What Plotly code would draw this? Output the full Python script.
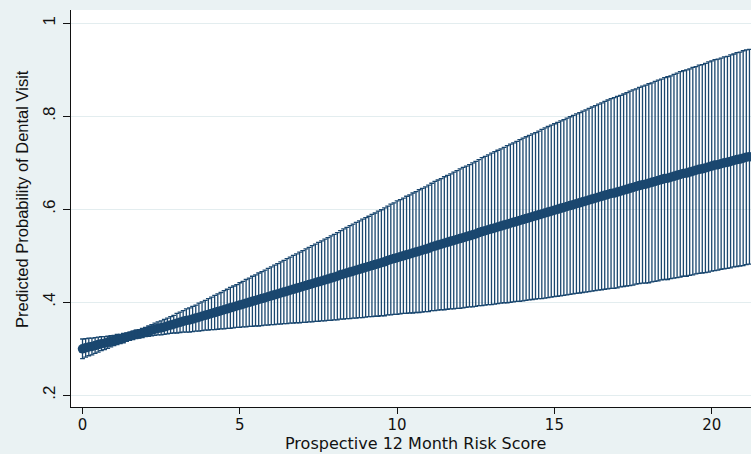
import plotly.graph_objects as go

# Prospective 12-month risk score (evaluation grid, step 0.1)
risk_score = [
    0.0, 0.1, 0.2, 0.3, 0.4, 0.5, 0.6, 0.7, 0.8, 0.9,
    1.0, 1.1, 1.2, 1.3, 1.4, 1.5, 1.6, 1.7, 1.8, 1.9,
    2.0, 2.1, 2.2, 2.3, 2.4, 2.5, 2.6, 2.7, 2.8, 2.9,
    3.0, 3.1, 3.2, 3.3, 3.4, 3.5, 3.6, 3.7, 3.8, 3.9,
    4.0, 4.1, 4.2, 4.3, 4.4, 4.5, 4.6, 4.7, 4.8, 4.9,
    5.0, 5.1, 5.2, 5.3, 5.4, 5.5, 5.6, 5.7, 5.8, 5.9,
    6.0, 6.1, 6.2, 6.3, 6.4, 6.5, 6.6, 6.7, 6.8, 6.9,
    7.0, 7.1, 7.2, 7.3, 7.4, 7.5, 7.6, 7.7, 7.8, 7.9,
    8.0, 8.1, 8.2, 8.3, 8.4, 8.5, 8.6, 8.7, 8.8, 8.9,
    9.0, 9.1, 9.2, 9.3, 9.4, 9.5, 9.6, 9.7, 9.8, 9.9,
    10.0, 10.1, 10.2, 10.3, 10.4, 10.5, 10.6, 10.7, 10.8, 10.9,
    11.0, 11.1, 11.2, 11.3, 11.4, 11.5, 11.6, 11.7, 11.8, 11.9,
    12.0, 12.1, 12.2, 12.3, 12.4, 12.5, 12.6, 12.7, 12.8, 12.9,
    13.0, 13.1, 13.2, 13.3, 13.4, 13.5, 13.6, 13.7, 13.8, 13.9,
    14.0, 14.1, 14.2, 14.3, 14.4, 14.5, 14.6, 14.7, 14.8, 14.9,
    15.0, 15.1, 15.2, 15.3, 15.4, 15.5, 15.6, 15.7, 15.8, 15.9,
    16.0, 16.1, 16.2, 16.3, 16.4, 16.5, 16.6, 16.7, 16.8, 16.9,
    17.0, 17.1, 17.2, 17.3, 17.4, 17.5, 17.6, 17.7, 17.8, 17.9,
    18.0, 18.1, 18.2, 18.3, 18.4, 18.5, 18.6, 18.7, 18.8, 18.9,
    19.0, 19.1, 19.2, 19.3, 19.4, 19.5, 19.6, 19.7, 19.8, 19.9,
    20.0, 20.1, 20.2, 20.3, 20.4, 20.5, 20.6, 20.7, 20.8, 20.9,
    21.0, 21.1, 21.2,
]

# Predicted probability of dental visit (margin)
pred_prob = [
    0.300, 0.302, 0.304, 0.305, 0.307, 0.309, 0.311, 0.312, 0.314, 0.316,
    0.318, 0.320, 0.321, 0.323, 0.325, 0.327, 0.329, 0.331, 0.332, 0.334,
    0.336, 0.338, 0.340, 0.342, 0.344, 0.345, 0.347, 0.349, 0.351, 0.353,
    0.355, 0.357, 0.359, 0.361, 0.362, 0.364, 0.366, 0.368, 0.370, 0.372,
    0.374, 0.376, 0.378, 0.380, 0.382, 0.384, 0.386, 0.388, 0.390, 0.392,
    0.394, 0.396, 0.398, 0.400, 0.402, 0.404, 0.406, 0.408, 0.410, 0.412,
    0.414, 0.416, 0.418, 0.420, 0.422, 0.424, 0.426, 0.428, 0.430, 0.432,
    0.434, 0.436, 0.438, 0.440, 0.442, 0.444, 0.446, 0.448, 0.450, 0.452,
    0.454, 0.456, 0.459, 0.461, 0.463, 0.465, 0.467, 0.469, 0.471, 0.473,
    0.475, 0.477, 0.479, 0.481, 0.483, 0.485, 0.487, 0.490, 0.492, 0.494,
    0.496, 0.498, 0.500, 0.502, 0.504, 0.506, 0.508, 0.510, 0.512, 0.514,
    0.516, 0.519, 0.521, 0.523, 0.525, 0.527, 0.529, 0.531, 0.533, 0.535,
    0.537, 0.539, 0.541, 0.543, 0.545, 0.547, 0.550, 0.552, 0.554, 0.556,
    0.558, 0.560, 0.562, 0.564, 0.566, 0.568, 0.570, 0.572, 0.574, 0.576,
    0.578, 0.580, 0.582, 0.584, 0.586, 0.588, 0.590, 0.592, 0.594, 0.596,
    0.598, 0.600, 0.602, 0.604, 0.606, 0.608, 0.610, 0.612, 0.614, 0.616,
    0.618, 0.620, 0.622, 0.624, 0.626, 0.628, 0.630, 0.632, 0.634, 0.635,
    0.637, 0.639, 0.641, 0.643, 0.645, 0.647, 0.649, 0.651, 0.653, 0.654,
    0.656, 0.658, 0.660, 0.662, 0.664, 0.666, 0.667, 0.669, 0.671, 0.673,
    0.675, 0.677, 0.678, 0.680, 0.682, 0.684, 0.686, 0.687, 0.689, 0.691,
    0.693, 0.695, 0.696, 0.698, 0.700, 0.701, 0.703, 0.705, 0.707, 0.708,
    0.710, 0.712, 0.713,
]

# Half-width of the 95% confidence interval
ci_half = [
    0.021, 0.020, 0.019, 0.018, 0.017, 0.016, 0.015, 0.014, 0.013, 0.012,
    0.011, 0.011, 0.010, 0.010, 0.009, 0.009, 0.009, 0.009, 0.009, 0.010,
    0.010, 0.011, 0.012, 0.013, 0.014, 0.015, 0.016, 0.017, 0.018, 0.019,
    0.021, 0.022, 0.023, 0.025, 0.026, 0.027, 0.028, 0.030, 0.031, 0.032,
    0.034, 0.035, 0.037, 0.038, 0.039, 0.041, 0.042, 0.044, 0.045, 0.046,
    0.048, 0.049, 0.051, 0.052, 0.054, 0.055, 0.057, 0.058, 0.059, 0.061,
    0.062, 0.064, 0.065, 0.067, 0.068, 0.070, 0.071, 0.073, 0.074, 0.076,
    0.077, 0.079, 0.080, 0.082, 0.083, 0.085, 0.086, 0.088, 0.089, 0.091,
    0.092, 0.094, 0.095, 0.097, 0.098, 0.100, 0.101, 0.103, 0.104, 0.106,
    0.107, 0.108, 0.110, 0.111, 0.113, 0.114, 0.116, 0.117, 0.119, 0.120,
    0.122, 0.123, 0.124, 0.126, 0.127, 0.129, 0.130, 0.132, 0.133, 0.134,
    0.136, 0.137, 0.139, 0.140, 0.141, 0.143, 0.144, 0.145, 0.147, 0.148,
    0.150, 0.151, 0.152, 0.153, 0.155, 0.156, 0.157, 0.159, 0.160, 0.161,
    0.163, 0.164, 0.165, 0.166, 0.167, 0.169, 0.170, 0.171, 0.172, 0.174,
    0.175, 0.176, 0.177, 0.178, 0.179, 0.180, 0.182, 0.183, 0.184, 0.185,
    0.186, 0.187, 0.188, 0.189, 0.190, 0.191, 0.192, 0.193, 0.194, 0.195,
    0.196, 0.197, 0.198, 0.199, 0.200, 0.201, 0.202, 0.203, 0.204, 0.205,
    0.206, 0.206, 0.207, 0.208, 0.209, 0.210, 0.210, 0.211, 0.212, 0.213,
    0.214, 0.214, 0.215, 0.216, 0.216, 0.217, 0.218, 0.218, 0.219, 0.220,
    0.221, 0.221, 0.222, 0.222, 0.223, 0.223, 0.224, 0.224, 0.225, 0.226,
    0.226, 0.227, 0.227, 0.227, 0.228, 0.228, 0.229, 0.229, 0.230, 0.230,
    0.231, 0.231, 0.231,
]

x_ticks = [0, 5, 10, 15, 20]
x_tick_labels = ["0", "5", "10", "15", "20"]
y_ticks = [0.2, 0.4, 0.6, 0.8, 1.0]
y_tick_labels = [".2", ".4", ".6", ".8", "1"]

x_title = "Prospective 12 Month Risk Score"
y_title = "Predicted Probability of Dental Visit"

NAVY = "#1a476f"
OUTER_BG = "#eaf2f3"
GRID = "#e3edef"

fig = go.Figure()

# Confidence interval caps (rcap)
fig.add_trace(go.Scatter(
    x=risk_score, y=pred_prob, mode="markers",
    marker=dict(size=1, color="rgba(0,0,0,0)"),
    error_y=dict(type="data", array=ci_half, symmetric=True,
                 color=NAVY, thickness=1.3, width=2.4),
    hoverinfo="skip", showlegend=False, cliponaxis=True,
))

# Predicted margins (connected markers)
fig.add_trace(go.Scatter(
    x=risk_score, y=pred_prob, mode="lines+markers",
    line=dict(color=NAVY, width=3),
    marker=dict(size=9.5, color=NAVY, line=dict(width=0)),
    showlegend=False, cliponaxis=True,
))

fig.update_layout(
    width=751, height=454,
    margin=dict(l=71, r=0, t=10, b=47),
    paper_bgcolor=OUTER_BG,
    plot_bgcolor="white",
    showlegend=False,
    xaxis=dict(
        range=[-0.366, 21.249],
        tickvals=x_ticks, ticktext=x_tick_labels,
        showgrid=False, zeroline=False,
        showline=True, linecolor="#111111", linewidth=1.2,
        ticks="outside", ticklen=6, tickwidth=1.2, tickcolor="#111111",
        ticklabelstandoff=-2,
        tickfont=dict(family="DejaVu Sans", size=15, color="#111111"),
    ),
    yaxis=dict(
        range=[0.1748, 1.0286],
        tickvals=y_ticks, ticktext=y_tick_labels,
        showgrid=True, gridcolor=GRID, gridwidth=1,
        zeroline=False,
        showline=True, linecolor="#111111", linewidth=1.2,
        ticks="outside", ticklen=7, tickwidth=1.2, tickcolor="#111111",
        tickangle=-90, ticklabelstandoff=1,
        tickfont=dict(family="Liberation Sans", size=17, color="#111111"),
    ),
    annotations=[
        dict(text=x_title, xref="paper", yref="paper",
             x=0.507, y=-0.0927, xanchor="center", yanchor="middle",
             showarrow=False, borderpad=0,
             font=dict(family="DejaVu Sans", size=16, color="#111111")),
        dict(text=y_title, xref="paper", yref="paper",
             x=-0.072, y=0.524, xanchor="center", yanchor="middle",
             textangle=-90, showarrow=False,
             font=dict(family="Liberation Sans", size=16.5, color="#111111")),
    ],
)

fig.write_html(
    "out.html",
    config={"displayModeBar": False},
    post_script="document.body.style.margin='0px';document.body.style.overflow='hidden';",
)
